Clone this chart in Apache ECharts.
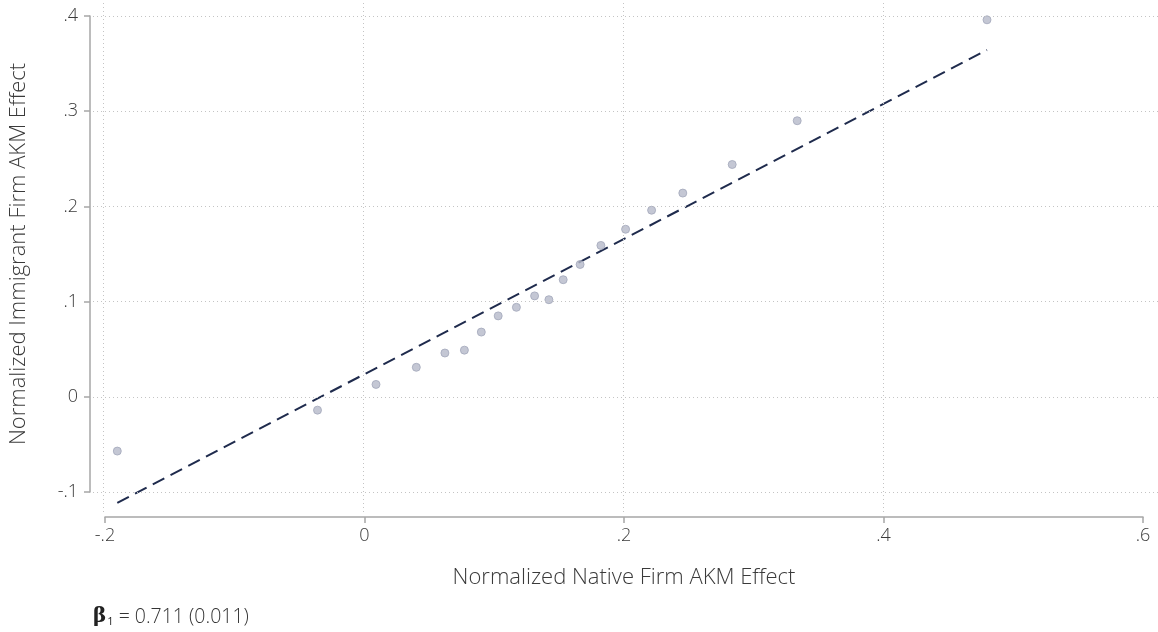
<!DOCTYPE html>
<html>
<head>
<meta charset="utf-8">
<script src="https://cdn.jsdelivr.net/npm/echarts@6/dist/echarts.min.js"></script>
<style>
html,body{margin:0;padding:0;background:#fff;}
#chart{width:1158px;height:632px;}
</style>
</head>
<body>
<div id="chart"></div>
<script>
// ---- data ----
const xTicks = [-0.2, 0, 0.2, 0.4, 0.6];
const yTicks = [-0.1, 0, 0.1, 0.2, 0.3, 0.4];
const nativeEffect = [-0.189, -0.035, 0.010, 0.041, 0.063, 0.078, 0.091, 0.104, 0.118, 0.132, 0.143, 0.154, 0.167, 0.183, 0.202, 0.222, 0.246, 0.284, 0.334, 0.480];
const immigrantEffect = [-0.057, -0.014, 0.013, 0.031, 0.046, 0.049, 0.068, 0.085, 0.094, 0.106, 0.102, 0.123, 0.139, 0.159, 0.176, 0.196, 0.214, 0.244, 0.290, 0.396];
const beta = 0.711;
const betaSE = 0.011;
const intercept = 0.023;
const xTitle = 'Normalized Native Firm AKM Effect';
const yTitle = 'Normalized Immigrant Firm AKM Effect';

// ---- layout ----
const W = 1158, H = 632;
const axL = 103, axR = 1143, axT = 16, axB = 492;   // tick-range box
const gL = 93, gR = 1158, gT = 0, gB = 512;          // gridline box
const xMin = xTicks[0], xMax = xTicks[xTicks.length - 1];
const yMin = yTicks[0], yMax = yTicks[yTicks.length - 1];
const xPerPx = (xMax - xMin) / (axR - axL);
const yPerPx = (yMax - yMin) / (axB - axT);

const fmt = v => {
  if (Math.abs(v) < 1e-9) return '0';
  const s = (Math.round(v * 10) / 10).toFixed(1);
  return s.replace(/^(-?)0\./, '$1.');
};

const pts = nativeEffect.map((x, i) => [x, immigrantEffect[i]]);
const lx0 = Math.min(...nativeEffect), lx1 = Math.max(...nativeEffect);
const fitLine = [[lx0, intercept + beta * lx0], [lx1, intercept + beta * lx1]];

const FONT = 'Open Sans';
const txt = '#3a3a3a';
const axisCol = '#a6a6a6';

const gridMarks = yTicks.map(v => ({ yAxis: v }))
  .concat(xTicks.filter(v => v < xMax - 1e-9).map(v => ({ xAxis: v })));

const chart = echarts.init(document.getElementById('chart'), null, { renderer: 'canvas' });
chart.setOption({
  backgroundColor: '#fff',
  animation: false,
  grid: [
    { left: gL, right: W - gR, top: gT, bottom: H - gB },
    { left: axL, right: W - axR, top: axT, bottom: H - axB }
  ],
  xAxis: [
    { gridIndex: 0, type: 'value', show: false,
      min: xMin - (axL - gL) * xPerPx, max: xMax + (gR - axR) * xPerPx,
      splitLine: { show: false } },
    { gridIndex: 1, type: 'value', min: xMin, max: xMax, interval: 0.2, offset: 25,
      axisLine: { show: true, onZero: false, lineStyle: { color: axisCol, width: 1.5 } },
      axisTick: { show: true, length: 6, lineStyle: { color: axisCol, width: 1.5 } },
      splitLine: { show: false },
      axisLabel: { formatter: fmt, color: txt, fontFamily: FONT, fontWeight: 300, fontSize: 18, margin: 10 },
      name: xTitle, nameLocation: 'middle', nameGap: 50,
      nameTextStyle: { color: txt, fontFamily: FONT, fontWeight: 300, fontSize: 22 } }
  ],
  yAxis: [
    { gridIndex: 0, type: 'value', show: false,
      min: yMin - (gB - axB) * yPerPx, max: yMax + (axT - gT) * yPerPx,
      splitLine: { show: false } },
    { gridIndex: 1, type: 'value', min: yMin, max: yMax, interval: 0.1, offset: 15,
      axisLine: { show: true, onZero: false, lineStyle: { color: axisCol, width: 1.5 } },
      axisTick: { show: true, length: 6, lineStyle: { color: axisCol, width: 1.5 } },
      splitLine: { show: false },
      axisLabel: { formatter: fmt, color: txt, fontFamily: FONT, fontWeight: 300, fontSize: 18, margin: 12 },
      name: yTitle, nameLocation: 'middle', nameGap: 60,
      nameTextStyle: { color: txt, fontFamily: FONT, fontWeight: 300, fontSize: 22 } }
  ],
  series: [
    { type: 'line', xAxisIndex: 0, yAxisIndex: 0, data: [], silent: true,
      markLine: { symbol: 'none', silent: true, label: { show: false }, animation: false,
        lineStyle: { type: [1, 3], color: '#c4c4c4', width: 1 },
        emphasis: { disabled: true },
        data: gridMarks } },
    { type: 'line', xAxisIndex: 0, yAxisIndex: 0, data: fitLine, showSymbol: false, silent: true,
      clip: false, lineStyle: { color: '#1f2b4d', width: 2, type: [13, 7] }, z: 3 },
    { type: 'scatter', xAxisIndex: 0, yAxisIndex: 0, data: pts, symbolSize: 8, silent: true,
      itemStyle: { color: '#b5b9c9', borderColor: '#a2a7ba', borderWidth: 1 }, z: 4 }
  ],
  graphic: [{
    type: 'text', left: 93, top: 607,
    style: {
      text: '{b|β}{s|1}{t| = ' + beta.toFixed(3) + ' (' + betaSE.toFixed(3) + ')}',
      rich: {
        b: { fontFamily: 'DejaVu Serif', fontWeight: 'bold', fontSize: 20, fill: '#222' },
        s: { fontFamily: FONT, fontSize: 11, fill: '#222', verticalAlign: 'bottom', padding: [8, 0, 0, 1] },
        t: { fontFamily: FONT, fontWeight: 300, fontSize: 19.5, fill: '#333' }
      }
    }
  }]
});
</script>
</body>
</html>
